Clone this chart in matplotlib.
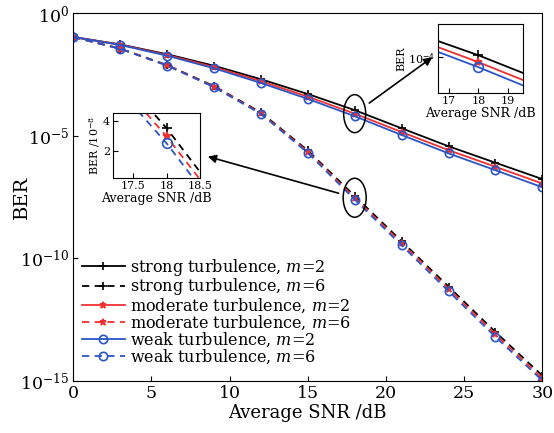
import matplotlib
matplotlib.use('Agg')
import matplotlib.pyplot as plt
from matplotlib.patches import Ellipse
import numpy as np

plt.rcParams['font.family'] = ['DejaVu Serif']
plt.rcParams['mathtext.fontset'] = 'dejavuserif'

# average SNR (dB), markers every 3 dB
snr = [0, 3, 6, 9, 12, 15, 18, 21, 24, 27, 30]

# BER curves
strong_m2 = [0.105, 0.0525, 0.0209, 7.1e-3, 2.0e-3, 5.0e-4, 1.10e-4, 2.0e-5, 3.7e-6, 7.9e-7, 1.7e-7]
moderate_m2 = [0.105, 0.0513, 0.0195, 6.3e-3, 1.66e-3, 3.9e-4, 7.9e-5, 1.41e-5, 2.57e-6, 5.4e-7, 1.12e-7]
weak_m2 = [0.105, 0.050, 0.0182, 5.6e-3, 1.41e-3, 3.16e-4, 6.2e-5, 1.07e-5, 1.9e-6, 3.9e-7, 7.9e-8]
strong_m6 = [0.105, 0.0355, 7.6e-3, 1.05e-3, 8.9e-5, 2.5e-6, 3.5e-8, 5.0e-10, 7.1e-12, 1.0e-13, 1.66e-15]
moderate_m6 = [0.105, 0.0351, 7.4e-3, 1.0e-3, 8.3e-5, 2.24e-6, 2.95e-8, 4.2e-10, 5.8e-12, 7.9e-14, 1.3e-15]
weak_m6 = [0.105, 0.0347, 7.2e-3, 9.5e-4, 7.8e-5, 2.0e-6, 2.5e-8, 3.4e-10, 4.6e-12, 6.3e-14, 1.05e-15]

# zoomed inset (m=6, linear BER in units of 1e-8)
inset_snr = [17.2, 18.0, 18.5]
inset_strong = [7.5, 3.5, 0.6]
inset_moderate = [7.0, 2.95, 0.1]
inset_weak = [6.5, 2.5, -0.4]

labels = ['strong turbulence, $m$=2', 'strong turbulence, $m$=6',
          'moderate turbulence, $m$=2', 'moderate turbulence, $m$=6',
          'weak turbulence, $m$=2', 'weak turbulence, $m$=6']

black = 'black'
red = '#f03030'
blue = '#2a55c8'
dash = (0, (4, 3))

styles = [
    (strong_m2, black, '-', '+', 'none'),
    (strong_m6, black, dash, '+', 'none'),
    (moderate_m2, red, '-', '*', red),
    (moderate_m6, red, dash, '*', red),
    (weak_m2, blue, '-', 'o', 'none'),
    (weak_m6, blue, dash, 'o', 'none'),
]

fig = plt.figure(figsize=(5.54, 4.33), dpi=100)
ax = fig.add_axes([0.132, 0.120, 0.847, 0.850])

for (y, c, ls, mk, mfc), lab in zip(styles, labels):
    ax.semilogy(snr, y, color=c, linestyle=ls, marker=mk, markersize=6 if mk != '*' else 5,
                markerfacecolor=mfc, markeredgecolor=c, markeredgewidth=1.2, lw=1.3, label=lab)

ax.set_xlim(0, 30)
ax.set_ylim(1e-15, 1)
ax.set_xticks([0, 5, 10, 15, 20, 25, 30])
ax.set_yticks([1e0, 1e-5, 1e-10, 1e-15])
ax.yaxis.set_minor_locator(matplotlib.ticker.NullLocator())
ax.tick_params(direction='in', labelsize=12.5, pad=3)
ax.set_xlabel('Average SNR /dB', fontsize=13, labelpad=1)
ax.set_ylabel('BER', fontsize=14)
ax.yaxis.set_label_coords(-0.09, 0.5)

ax.legend(loc='upper left', bbox_to_anchor=(0.005, 0.355), frameon=False, fontsize=11.5,
          handlelength=2.7, labelspacing=-0.08, handletextpad=0.3, borderaxespad=0)

# ellipses around SNR = 18 dB
aw, ah = 469.0, 368.0
for yv, w, h in [(moderate_m2[6], 22, 38), (moderate_m6[6], 23, 39)]:
    cx, cy = ax.transAxes.inverted().transform(ax.transData.transform((18, yv)))
    ax.add_patch(Ellipse((cx, cy), w / aw, h / ah, transform=ax.transAxes,
                         fill=False, ec='black', lw=1.1, zorder=5))

# upper-right inset (m=2)
ins1 = fig.add_axes([0.791, 0.785, 0.153, 0.159])
for (y, c, ls, mk, mfc) in styles[0::2]:
    ins1.semilogy(snr, y, color=c, linestyle='-', marker=mk, markersize=7 if mk != '*' else 6,
                  markerfacecolor=mfc, markeredgecolor=c, markeredgewidth=1.2, lw=1.3)
ins1.set_xlim(16.65, 19.5)
ins1.set_ylim(10 ** -4.75, 10 ** -3.31)
ins1.set_xticks([17, 18, 19])
ins1.set_yticks([1e-4])
ins1.yaxis.set_minor_locator(matplotlib.ticker.NullLocator())
ins1.tick_params(direction='in', labelsize=8, pad=2)
ins1.set_xlabel('Average SNR /dB', fontsize=9, labelpad=1)
ins1.set_ylabel('BER', fontsize=8, labelpad=1)

# lower-left inset (m=6)
ins2 = fig.add_axes([0.204, 0.589, 0.157, 0.150])
for y, c, mk, mfc in [(inset_strong, black, '+', 'none'), (inset_moderate, red, '*', red),
                      (inset_weak, blue, 'o', 'none')]:
    ins2.plot(inset_snr, y, color=c, linestyle=dash, lw=1.3)
    ins2.plot(inset_snr[1], y[1], color=c, marker=mk, markersize=7 if mk != '*' else 6,
              markerfacecolor=mfc, markeredgecolor=c, markeredgewidth=1.2)
ins2.set_xlim(17.2, 18.5)
ins2.set_ylim(0.2, 4.5)
ins2.set_xticks([17.5, 18, 18.5])
ins2.set_xticklabels(['17.5', '18', '18.5'])
ins2.set_yticks([2, 4])
ins2.tick_params(direction='in', labelsize=8, pad=2)
ins2.set_xlabel('Average SNR /dB', fontsize=9, labelpad=1)
ins2.set_ylabel('BER /10$^{-8}$', fontsize=8, labelpad=1)

# arrows from ellipses to insets
ax.annotate('', xy=(-0.07, 0.52), xycoords=ins1.transAxes,
            xytext=(18, moderate_m2[6]), textcoords='data',
            arrowprops=dict(arrowstyle='-|>', color='black', lw=1.2, shrinkA=13, shrinkB=0,
                            mutation_scale=12))
ax.annotate('', xy=(1.09, 0.33), xycoords=ins2.transAxes,
            xytext=(18, moderate_m6[6]), textcoords='data',
            arrowprops=dict(arrowstyle='-|>', color='black', lw=1.2, shrinkA=12, shrinkB=0,
                            mutation_scale=12))

fig.savefig('out.png', dpi=100)
